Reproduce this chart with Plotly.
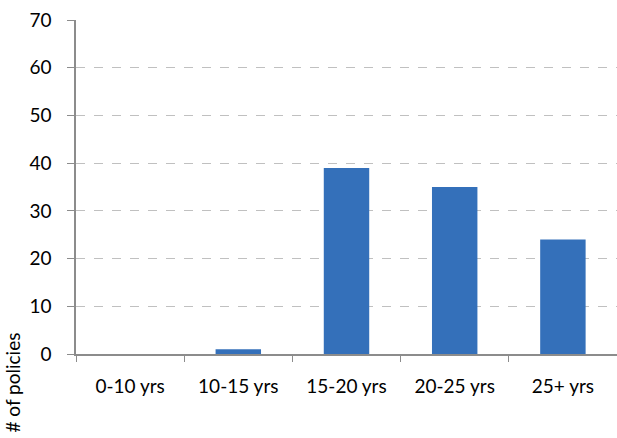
import plotly.graph_objects as go

categories = ["0-10 yrs", "10-15 yrs", "15-20 yrs", "20-25 yrs", "25+ yrs"]
policies = [0, 1, 39, 35, 24]
y_ticks = [0, 10, 20, 30, 40, 50, 60, 70]

fig = go.Figure()
fig.add_trace(go.Bar(
    x=categories, y=policies,
    marker=dict(color="#3470BA", line=dict(width=0)),
))

fig.update_layout(
    template="none",
    width=617, height=438,
    margin=dict(l=76, r=0, t=20, b=84, autoexpand=False),
    paper_bgcolor="white", plot_bgcolor="white",
    bargap=0.58,
    showlegend=False,
    font=dict(family="Lato, Open Sans, sans-serif", size=19, color="black"),
)
fig.update_yaxes(
    range=[0, 70], tickvals=y_ticks, automargin=False,
    showgrid=True, gridcolor="#C0C0C0", griddash="dash", gridwidth=1,
    showline=True, linecolor="#8C8C8C", linewidth=1.5,
    ticks="outside", ticklen=7, tickcolor="#8C8C8C",
    ticklabelstandoff=12, zeroline=False,
)
fig.update_xaxes(
    automargin=False,
    showline=True, linecolor="#8C8C8C", linewidth=1.5,
    ticks="outside", ticklen=6, tickcolor="#8C8C8C",
    tickson="boundaries", ticklabelstandoff=14, showgrid=False,
)
fig.add_annotation(
    text="# of policies", textangle=-90,
    xref="paper", yref="paper", x=-0.118, y=-0.085,
    xanchor="center", yanchor="middle", showarrow=False,
    font=dict(size=19),
)
fig.write_html("out.html", config={"displayModeBar": False},
               post_script="document.body.style.margin='0';")
